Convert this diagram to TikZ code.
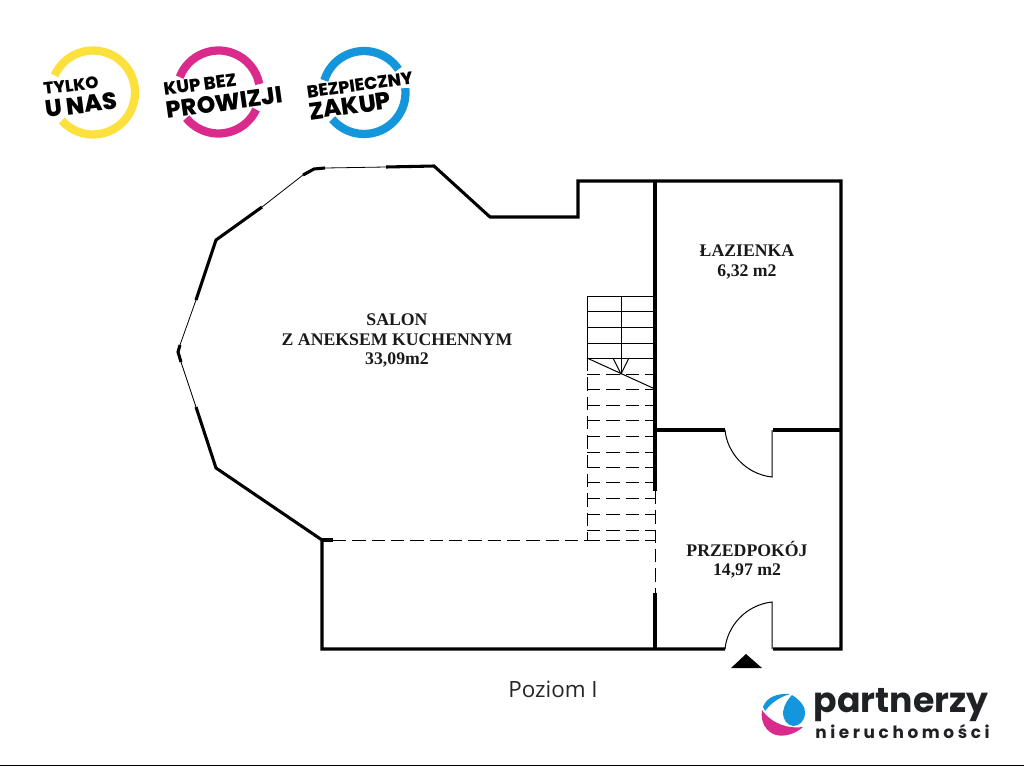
\documentclass[tikz,border=0pt]{standalone}
\usepackage{fontspec}
\usepackage{xcolor}
\setmainfont{Liberation Serif}
\newfontfamily\badgefont[BoldFont={Poppins ExtraBold}]{Poppins}
\newfontfamily\brandfont{Poppins}
\newfontfamily\captionfont{Open Sans}
\definecolor{ringyellow}{HTML}{FCE03C}
\definecolor{ringpink}{HTML}{DA2A8C}
\definecolor{ringblue}{HTML}{1396DB}
\definecolor{brandgray}{HTML}{202124}
\tikzset{
  wall/.style={line width=2.3pt,line join=miter},
  thinwall/.style={line width=0.6pt},
  stairline/.style={line width=0.75pt},
  hidden/.style={line width=0.75pt,dash pattern=on 10pt off 4.5pt},
  roomlabel/.style={font=\bfseries\fontsize{13.3}{14.4}\selectfont,align=center,text=black!90},
  ringarc/.style={line width=6.2pt},
  badge/.style={align=center,text=black,inner sep=0pt},
}
\begin{document}
\begin{tikzpicture}[x=0.75pt,y=-0.75pt]
  \useasboundingbox (0,0) rectangle (1024,768);
  % outline
  \draw[wall] (725,649) -- (322,649) -- (322,540) -- (216,468) -- (196,407);
  \draw[wall] (322,540) -- (333,540);
  \draw[wall] (773,649) -- (841,649) -- (841,181) -- (578,181) -- (578,217) -- (490,217) -- (434,166) -- (386,167);
  \draw[wall] (325,168) -- (314,169) -- (303,175);
  \draw[wall] (262,207) -- (216,240) -- (196,300);
  \draw[wall] (180,345) -- (178,352) -- (181,362);
  \draw[thinwall] (386,167) -- (325,168) (303,175) -- (262,207) (196,300) -- (180,345) (181,362) -- (196,407);
  % inner walls
  \draw[wall] (655,181) -- (655,491) (655,593) -- (655,649);
  \draw[wall] (655,430) -- (725,430) (773,430) -- (841,430);
  \draw[hidden] (655,491) -- (655,593);
  % doors
  \draw[stairline] (725,430) .. controls (727,452) and (745,474) .. (772,477) -- (772,430);
  \draw[stairline] (725,649) .. controls (727,627) and (745,605) .. (772,602) -- (772,649);
  \fill[black] (731,668) -- (746,654) -- (762,668) -- cycle;
  % stairs
  \draw[stairline] (587,358) -- (587,296) -- (655,296);
  \foreach \y in {311.5,327,343,358}
    \draw[stairline] (587,\y) -- (655,\y);
  \draw[stairline] (621,296) -- (621,374);
  \draw[stairline] (587,358) -- (655,389);
  \draw[stairline] (613,358) -- (621,374) -- (629,358);
  \foreach \y in {374,389,405,420,436,452,467,482,498,514,530,540}
    \draw[hidden] (587,\y) -- (655,\y);
  \draw[hidden] (587,358) -- (587,540);
  \draw[hidden] (333,540) -- (587,540);
  % room labels
  \node[roomlabel] (salon) at (397,340.5) {SALON\\Z ANEKSEM KUCHENNYM\\33,09m2};
  \node[roomlabel] (lazienka) at (747,262) {ŁAZIENKA\\6,32 m2};
  \node[roomlabel] (przedpokoj) at (747,560) {PRZEDPOKÓJ\\14,97 m2};
  \node[font=\captionfont\fontsize{16.8}{18}\selectfont,text=black!85] (poziom) at (553,689) {Poziom I};
  % badges
  \draw[ringarc,ringyellow] (93,92.5) ++(-156:42) arc (-156:138:42);
  \draw[ringarc,ringpink] (218.5,92) ++(-159:41.5) arc (-159:-11:41.5);
  \draw[ringarc,ringpink] (218.5,92) ++(25:41.5) arc (25:141:41.5);
  \draw[ringarc,ringblue] (364,92.5) ++(-163:41.5) arc (-163:-34:41.5);
  \draw[ringarc,ringblue] (364,92.5) ++(-6:41.5) arc (-6:140:41.5);
  \node[badge,rotate=7,font=\badgefont\bfseries\fontsize{12.5}{14}\selectfont] (tylko) at (71,85.5) {TYLKO};
  \node[badge,rotate=7,font=\badgefont\bfseries\fontsize{17.8}{19}\selectfont] (unas) at (81,105) {U NAS};
  \node[badge,rotate=8,font=\badgefont\bfseries\fontsize{13.4}{14}\selectfont] (kupbez) at (200,84.5) {KUP BEZ};
  \node[badge,rotate=8,font=\badgefont\bfseries\fontsize{17.6}{19}\selectfont] (prowizji) at (224.5,102.5) {PROWIZJI};
  \node[badge,rotate=8,font=\badgefont\bfseries\fontsize{13}{14}\selectfont] (bezpieczny) at (360,85) {BEZPIECZNY};
  \node[badge,rotate=8,font=\badgefont\bfseries\fontsize{18}{19}\selectfont] (zakup) at (350,106) {ZAKUP};
  % brand
  \fill[ringpink] (762,710) .. controls (772,724) and (788,729) .. (803,727) .. controls (795,734) and (785,737) .. (776,735) .. controls (766,732) and (760,722) .. (762,710) -- cycle;
  \fill[ringblue] (763,707) .. controls (766,698) and (776,693) .. (790,694) .. controls (780,697) and (772,702) .. (765,711) -- cycle;
  \fill[ringblue] (792,695) .. controls (800,700) and (806,707) .. (805,714) .. controls (804,722) and (799,726) .. (793,726) .. controls (787,725) and (783,720) .. (783,712) .. controls (784,705) and (788,699) .. (792,695) -- cycle;
  \node[font=\brandfont\bfseries\fontsize{26}{28}\selectfont,text=brandgray,inner sep=0pt] (partnerzy) at (901,705) {partnerzy};
  \node[font=\brandfont\bfseries\fontsize{12.7}{14}\selectfont,text=brandgray,inner sep=0pt] (nieruchomosci) at (902.5,731) {n i e r u c h o m o ś c i};
  \draw[line width=1pt] (0,765.5) -- (1024,765.5);
\end{tikzpicture}
\end{document}
